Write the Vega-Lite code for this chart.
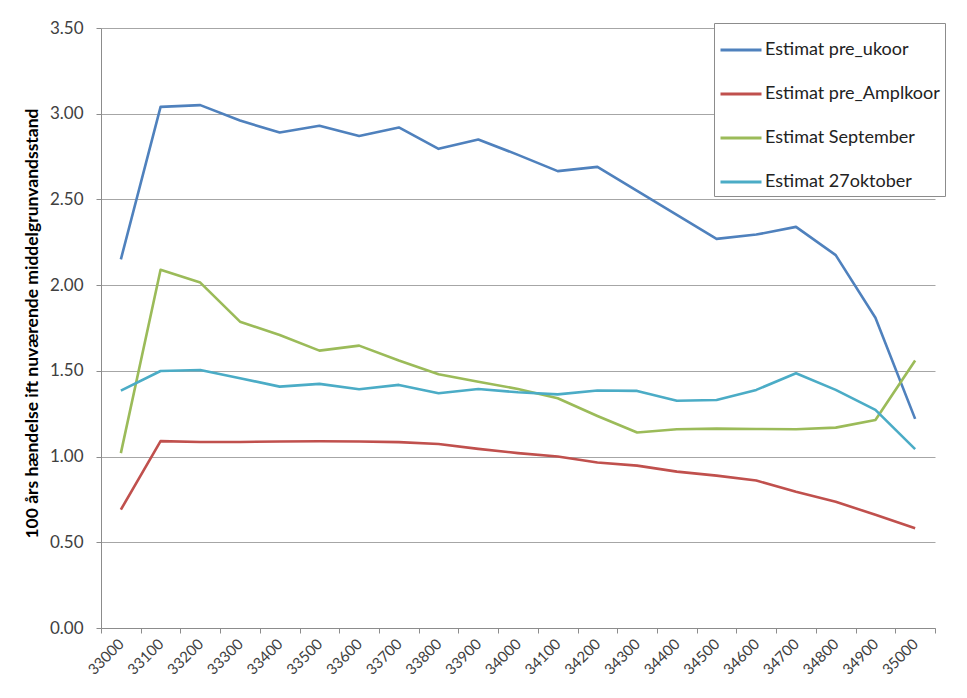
{
  "$schema": "https://vega.github.io/schema/vega-lite/v6.json",
  "width": 834,
  "height": 600,
  "autosize": "none",
  "padding": {"left": 101, "top": 28, "right": 32, "bottom": 70},
  "background": "white",
  "config": {
    "view": {"stroke": null},
    "font": "Lato"
  },
  "datasets": {
    "d": [
      {"x": "33000", "s": "Estimat pre_ukoor", "v": 2.15},
      {"x": "33100", "s": "Estimat pre_ukoor", "v": 3.04},
      {"x": "33200", "s": "Estimat pre_ukoor", "v": 3.05},
      {"x": "33300", "s": "Estimat pre_ukoor", "v": 2.96},
      {"x": "33400", "s": "Estimat pre_ukoor", "v": 2.89},
      {"x": "33500", "s": "Estimat pre_ukoor", "v": 2.93},
      {"x": "33600", "s": "Estimat pre_ukoor", "v": 2.87},
      {"x": "33700", "s": "Estimat pre_ukoor", "v": 2.92},
      {"x": "33800", "s": "Estimat pre_ukoor", "v": 2.795},
      {"x": "33900", "s": "Estimat pre_ukoor", "v": 2.85},
      {"x": "34000", "s": "Estimat pre_ukoor", "v": 2.76},
      {"x": "34100", "s": "Estimat pre_ukoor", "v": 2.665},
      {"x": "34200", "s": "Estimat pre_ukoor", "v": 2.69},
      {"x": "34300", "s": "Estimat pre_ukoor", "v": 2.55},
      {"x": "34400", "s": "Estimat pre_ukoor", "v": 2.41},
      {"x": "34500", "s": "Estimat pre_ukoor", "v": 2.27},
      {"x": "34600", "s": "Estimat pre_ukoor", "v": 2.295},
      {"x": "34700", "s": "Estimat pre_ukoor", "v": 2.34},
      {"x": "34800", "s": "Estimat pre_ukoor", "v": 2.175},
      {"x": "34900", "s": "Estimat pre_ukoor", "v": 1.81},
      {"x": "35000", "s": "Estimat pre_ukoor", "v": 1.22},

      {"x": "33000", "s": "Estimat pre_Amplkoor", "v": 0.69},
      {"x": "33100", "s": "Estimat pre_Amplkoor", "v": 1.09},
      {"x": "33200", "s": "Estimat pre_Amplkoor", "v": 1.085},
      {"x": "33300", "s": "Estimat pre_Amplkoor", "v": 1.085},
      {"x": "33400", "s": "Estimat pre_Amplkoor", "v": 1.088},
      {"x": "33500", "s": "Estimat pre_Amplkoor", "v": 1.089},
      {"x": "33600", "s": "Estimat pre_Amplkoor", "v": 1.088},
      {"x": "33700", "s": "Estimat pre_Amplkoor", "v": 1.084},
      {"x": "33800", "s": "Estimat pre_Amplkoor", "v": 1.073},
      {"x": "33900", "s": "Estimat pre_Amplkoor", "v": 1.045},
      {"x": "34000", "s": "Estimat pre_Amplkoor", "v": 1.02},
      {"x": "34100", "s": "Estimat pre_Amplkoor", "v": 1.0},
      {"x": "34200", "s": "Estimat pre_Amplkoor", "v": 0.965},
      {"x": "34300", "s": "Estimat pre_Amplkoor", "v": 0.947},
      {"x": "34400", "s": "Estimat pre_Amplkoor", "v": 0.912},
      {"x": "34500", "s": "Estimat pre_Amplkoor", "v": 0.889},
      {"x": "34600", "s": "Estimat pre_Amplkoor", "v": 0.86},
      {"x": "34700", "s": "Estimat pre_Amplkoor", "v": 0.795},
      {"x": "34800", "s": "Estimat pre_Amplkoor", "v": 0.737},
      {"x": "34900", "s": "Estimat pre_Amplkoor", "v": 0.66},
      {"x": "35000", "s": "Estimat pre_Amplkoor", "v": 0.582},

      {"x": "33000", "s": "Estimat September", "v": 1.02},
      {"x": "33100", "s": "Estimat September", "v": 2.09},
      {"x": "33200", "s": "Estimat September", "v": 2.015},
      {"x": "33300", "s": "Estimat September", "v": 1.787},
      {"x": "33400", "s": "Estimat September", "v": 1.709},
      {"x": "33500", "s": "Estimat September", "v": 1.618},
      {"x": "33600", "s": "Estimat September", "v": 1.647},
      {"x": "33700", "s": "Estimat September", "v": 1.56},
      {"x": "33800", "s": "Estimat September", "v": 1.48},
      {"x": "33900", "s": "Estimat September", "v": 1.437},
      {"x": "34000", "s": "Estimat September", "v": 1.394},
      {"x": "34100", "s": "Estimat September", "v": 1.34},
      {"x": "34200", "s": "Estimat September", "v": 1.237},
      {"x": "34300", "s": "Estimat September", "v": 1.14},
      {"x": "34400", "s": "Estimat September", "v": 1.159},
      {"x": "34500", "s": "Estimat September", "v": 1.163},
      {"x": "34600", "s": "Estimat September", "v": 1.161},
      {"x": "34700", "s": "Estimat September", "v": 1.159},
      {"x": "34800", "s": "Estimat September", "v": 1.169},
      {"x": "34900", "s": "Estimat September", "v": 1.213},
      {"x": "35000", "s": "Estimat September", "v": 1.56},

      {"x": "33000", "s": "Estimat 27oktober", "v": 1.385},
      {"x": "33100", "s": "Estimat 27oktober", "v": 1.499},
      {"x": "33200", "s": "Estimat 27oktober", "v": 1.505},
      {"x": "33300", "s": "Estimat 27oktober", "v": 1.457},
      {"x": "33400", "s": "Estimat 27oktober", "v": 1.408},
      {"x": "33500", "s": "Estimat 27oktober", "v": 1.424},
      {"x": "33600", "s": "Estimat 27oktober", "v": 1.393},
      {"x": "33700", "s": "Estimat 27oktober", "v": 1.418},
      {"x": "33800", "s": "Estimat 27oktober", "v": 1.369},
      {"x": "33900", "s": "Estimat 27oktober", "v": 1.394},
      {"x": "34000", "s": "Estimat 27oktober", "v": 1.375},
      {"x": "34100", "s": "Estimat 27oktober", "v": 1.363},
      {"x": "34200", "s": "Estimat 27oktober", "v": 1.385},
      {"x": "34300", "s": "Estimat 27oktober", "v": 1.383},
      {"x": "34400", "s": "Estimat 27oktober", "v": 1.326},
      {"x": "34500", "s": "Estimat 27oktober", "v": 1.33},
      {"x": "34600", "s": "Estimat 27oktober", "v": 1.389},
      {"x": "34700", "s": "Estimat 27oktober", "v": 1.486},
      {"x": "34800", "s": "Estimat 27oktober", "v": 1.389},
      {"x": "34900", "s": "Estimat 27oktober", "v": 1.272},
      {"x": "35000", "s": "Estimat 27oktober", "v": 1.043}
    ]
  },
  "data": {"name": "d"},
  "mark": {"type": "line", "strokeWidth": 2.6, "strokeJoin": "round"},
  "encoding": {
    "x": {
      "field": "x",
      "type": "ordinal",
      "scale": {"type": "band", "paddingInner": 0, "paddingOuter": 0},
      "axis": {
        "title": null,
        "tickBand": "extent",
        "labelAngle": -45,
        "labelAlign": "right",
        "labelBaseline": "middle",
        "labelPadding": 8,
        "labelFontSize": 15,
        "labelColor": "#404040",
        "tickSize": 5,
        "tickColor": "#8c8c8c",
        "domainColor": "#8c8c8c",
        "grid": false
      }
    },
    "y": {
      "field": "v",
      "type": "quantitative",
      "scale": {"domain": [0, 3.5], "nice": false},
      "axis": {
        "values": [0, 0.5, 1, 1.5, 2, 2.5, 3, 3.5],
        "format": ".2f",
        "title": "100 års hændelse ift nuværende middelgrunvandsstand",
        "titleFontSize": 17.5,
        "titleFontWeight": "bold",
        "titleColor": "#000000",
        "titleAngle": -90,
        "titleX": -69,
        "titleY": 295,
        "titleAlign": "center",
        "titleBaseline": "middle",
        "labelFontSize": 17,
        "labelColor": "#404040",
        "labelPadding": 13,
        "tickSize": 5,
        "tickColor": "#8c8c8c",
        "domainColor": "#8c8c8c",
        "grid": true,
        "gridColor": "#a6a6a6",
        "gridWidth": 1
      }
    },
    "color": {
      "field": "s",
      "type": "nominal",
      "sort": ["Estimat pre_ukoor", "Estimat pre_Amplkoor", "Estimat September", "Estimat 27oktober"],
      "scale": {
        "domain": ["Estimat pre_ukoor", "Estimat pre_Amplkoor", "Estimat September", "Estimat 27oktober"],
        "range": ["#4F81BD", "#C0504D", "#9BBB59", "#4BACC6"]
      },
      "legend": {
        "title": null,
        "orient": "none",
        "legendX": 613,
        "legendY": -5,
        "symbolType": "stroke",
        "symbolSize": 1681,
        "symbolStrokeWidth": 3,
        "rowPadding": 13,
        "padding": 5,
        "labelOffset": 2,
        "labelFontSize": 18,
        "labelColor": "#222222",
        "labelLimit": 300,
        "fillColor": "white",
        "strokeColor": "#8c8c8c"
      }
    }
  }
}
